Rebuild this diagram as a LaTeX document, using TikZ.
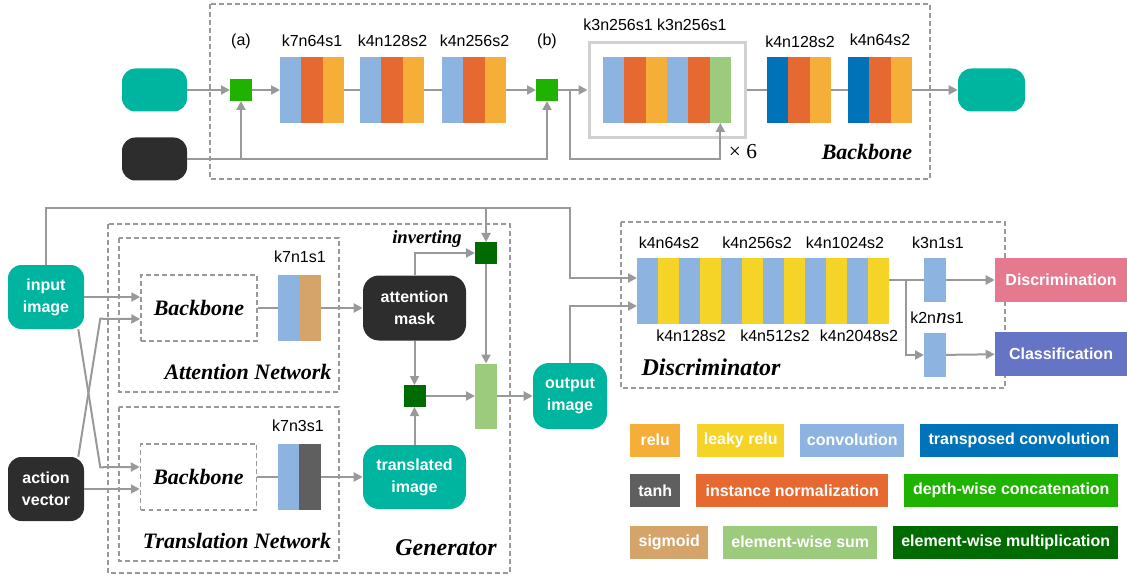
\documentclass[tikz,border=0pt]{standalone}
\usepackage{fontspec}
\setmainfont{Liberation Sans}
\newfontfamily\tnr{Liberation Serif}
\usetikzlibrary{arrows.meta,positioning}

\definecolor{tealc}{RGB}{0,181,160}
\definecolor{darkc}{RGB}{45,45,45}
\definecolor{convc}{RGB}{141,180,225}
\definecolor{normc}{RGB}{230,105,49}
\definecolor{reluc}{RGB}{245,174,55}
\definecolor{lreluc}{RGB}{245,211,39}
\definecolor{tconvc}{RGB}{0,114,184}
\definecolor{sumc}{RGB}{156,203,125}
\definecolor{catc}{RGB}{32,178,0}
\definecolor{multc}{RGB}{0,107,0}
\definecolor{tanhc}{RGB}{95,95,95}
\definecolor{sigc}{RGB}{212,164,106}
\definecolor{discc}{RGB}{229,122,143}
\definecolor{clsc}{RGB}{101,116,196}
\definecolor{linec}{RGB}{153,153,153}

\tikzset{
  conn/.style={draw=linec, line width=1.5pt},
  conar/.style={conn, -{Triangle[length=6.75pt,width=6.75pt]}},
  dashbox/.style={draw=linec, line width=1.1pt, dash pattern=on 3.5pt off 2.5pt},
  layer/.style={rectangle, inner sep=0pt, outer sep=0pt, minimum width=16pt, minimum height=49.5pt},
  dlayer/.style={layer, minimum width=15.75pt},
  opsq/.style={rectangle, inner sep=0pt, outer sep=0pt, minimum size=16.5pt},
  tensor/.style={rectangle, rounded corners=10pt, inner sep=0pt, text=white, align=center, font=\bfseries\fontsize{12pt}{16.5pt}\selectfont},
  spec/.style={font=\fontsize{12pt}{14pt}\selectfont},
  nettitle/.style={font=\tnr\bfseries\itshape\fontsize{16.5pt}{18pt}\selectfont},
  bigtitle/.style={font=\tnr\bfseries\itshape\fontsize{18pt}{20pt}\selectfont},
  legend/.style={rectangle, inner sep=0pt, minimum height=24.75pt, text=white, font=\bfseries\fontsize{12pt}{14pt}\selectfont},
}

\begin{document}
\begin{tikzpicture}[x=0.75pt,y=0.75pt,yscale=-1,xscale=1]
\useasboundingbox (0,0) rectangle (1127,577);

%Backbone frame
\draw[dashbox] (210,4) rectangle (930,179);
%Tensors
\node[tensor, fill=tealc, minimum width=48.75pt, minimum height=32.25pt] (srcimg) at (154.5,90) {};
\node[tensor, fill=darkc, minimum width=48.75pt, minimum height=32.25pt] (srcvec) at (154.5,159) {};
\node[tensor, fill=tealc, minimum width=50.25pt, minimum height=32.25pt] (dstimg) at (991.5,90) {};
%Concatenations
\node[opsq, fill=catc] (catA) at (241,90) {};
\node[spec] at (241,41) {(a)};
\node[opsq, fill=catc] (catB) at (547,90) {};
\node[spec] at (547,41) {(b)};
%Down-sampling blocks
\node[layer, fill=convc] (ba1) at (290.7,90) {};
\node[layer, fill=normc, right=0pt of ba1] (ba2) {};
\node[layer, fill=reluc, right=0pt of ba2] (ba3) {};
\node[spec] at (312,41) {k7n64s1};
\node[layer, fill=convc] (bb1) at (370.7,90) {};
\node[layer, fill=normc, right=0pt of bb1] (bb2) {};
\node[layer, fill=reluc, right=0pt of bb2] (bb3) {};
\node[spec] at (392.5,41) {k4n128s2};
\node[layer, fill=convc] (bc1) at (452.7,90) {};
\node[layer, fill=normc, right=0pt of bc1] (bc2) {};
\node[layer, fill=reluc, right=0pt of bc2] (bc3) {};
\node[spec] at (474.5,41) {k4n256s2};
%Residual block
\node[rectangle, draw=black!18, line width=2.25pt, inner sep=0pt, minimum width=117pt, minimum height=71.25pt] (resblk) at (667,90) {};
\node[layer, fill=convc] (r1) at (613.7,90) {};
\node[layer, fill=normc, right=0pt of r1] (r2) {};
\node[layer, fill=reluc, right=0pt of r2] (r3) {};
\node[layer, fill=convc, right=0pt of r3] (r4) {};
\node[layer, fill=normc, right=0pt of r4] (r5) {};
\node[layer, fill=sumc, right=0pt of r5] (r6) {};
\node[spec] at (655,25) {k3n256s1 k3n256s1};
\node[font=\tnr\fontsize{16pt}{18pt}\selectfont] at (743,152) {× 6};
%Up-sampling blocks
\node[layer, fill=tconvc] (tb1) at (777.7,90) {};
\node[layer, fill=normc, right=0pt of tb1] (tb2) {};
\node[layer, fill=reluc, right=0pt of tb2] (tb3) {};
\node[spec] at (800,42) {k4n128s2};
\node[layer, fill=tconvc] (tc1) at (858.7,90) {};
\node[layer, fill=normc, right=0pt of tc1] (tc2) {};
\node[layer, fill=reluc, right=0pt of tc2] (tc3) {};
\node[spec] at (880,40) {k4n64s2};
\node[nettitle] at (867,152) {Backbone};

%Straight Lines
\draw[conar] (srcimg) -- (catA);
\draw[conar] (catA) -- (ba1);
\draw[conn] (ba3) -- (bb1);
\draw[conn] (bb3) -- (bc1);
\draw[conar] (bc3) -- (catB);
\draw[conar] (catB) -- (resblk);
\coordinate (loopsplit) at (570,90);
\draw[conar] (loopsplit) |- ([shift={(0,36)}]r6.south) -- (r6.south);
\draw[conn] (resblk) -- (tb1);
\draw[conn] (tb3) -- (tc1);
\draw[conar] (tc3) -- (dstimg);
\draw[conar] (srcvec) -| (catB);
\draw[conar] (catA |- srcvec) -- (catA);

%Generator frames
\draw[dashbox] (108,224) rectangle (510,573);
\draw[dashbox] (119,238) rectangle (339,392);
\draw[dashbox] (119,407) rectangle (339,561);
\node[nettitle] at (248,372) {Attention Network};
\node[nettitle] at (237,541) {Translation Network};
\node[bigtitle] at (446,548) {Generator};
%Inputs
\node[tensor, fill=tealc, minimum width=57pt, minimum height=48pt] (inimg) at (46,297) {input\\image};
\node[tensor, fill=darkc, minimum width=57pt, minimum height=48pt] (actvec) at (46,489) {action\\vector};
%Attention network
\node[dashbox, nettitle, inner sep=0pt, minimum width=87pt, minimum height=49.5pt] (attbb) at (199,308) {Backbone};
\node[layer, fill=convc] (a1) at (288.7,308) {};
\node[layer, fill=sigc, right=0pt of a1] (a2) {};
\node[spec] at (300,257) {k7n1s1};
%Translation network
\node[dashbox, nettitle, inner sep=0pt, minimum width=87pt, minimum height=49.5pt] (trbb) at (198.5,477) {Backbone};
\node[layer, fill=convc] (t1) at (288.7,477) {};
\node[layer, fill=tanhc, right=0pt of t1] (t2) {};
\node[spec] at (298,426) {k7n3s1};
%Mask and fusion
\node[tensor, fill=darkc, rounded corners=12pt, minimum width=77.25pt, minimum height=48.75pt] (attmask) at (414.5,308) {attention\\mask};
\node[tensor, fill=tealc, rounded corners=12pt, minimum width=77.25pt, minimum height=48pt] (trimg) at (414.5,477) {translated\\image};
\node[opsq, fill=multc] (inv) at (486,253) {};
\node[font=\tnr\bfseries\itshape\fontsize{14pt}{16pt}\selectfont] at (427,239) {inverting};
\node[opsq, fill=multc] (mult) at (414.5,396) {};
\node[layer, fill=sumc, minimum width=16.5pt, minimum height=48.75pt] (sumblk) at (486,396) {};
\node[tensor, fill=tealc, rounded corners=12pt, minimum width=55.5pt, minimum height=49.5pt] (outimg) at (570,396) {output\\image};

%Straight Lines
\draw[conar] (inimg.east) -- (inimg.east -| attbb.west);
\draw[conar] (actvec.east) -- (actvec.east -| trbb.west);
\draw[conar] ([shift={(-6,0)}]inimg.south east) -- ++(22,138) -- ([shift={(0,-10)}]trbb.west);
\draw[conar] ([shift={(-6,0)}]actvec.north east) -- ++(22,-138) -- ([shift={(0,11)}]attbb.west);
\draw[conn] (attbb) -- (a1);
\draw[conar] (a2) -- (attmask);
\draw[conn] (trbb) -- (t1);
\draw[conar] (t2) -- (trimg);
\draw[conar] (attmask) |- (inv);
\draw[conar] (attmask) -- (mult);
\draw[conar] (trimg) -- (mult);
\draw[conar] (mult) -- (sumblk);
\draw[conar] (inv) -- (sumblk);
\draw[conar] (sumblk) -- (outimg);

%Discriminator
\draw[dashbox] (621,222) rectangle (1005,388);
\node[dlayer, fill=convc] (d1) at (647.5,291) {};
\node[dlayer, fill=lreluc, right=0pt of d1] (d2) {};
\node[dlayer, fill=convc, right=0pt of d2] (d3) {};
\node[dlayer, fill=lreluc, right=0pt of d3] (d4) {};
\node[dlayer, fill=convc, right=0pt of d4] (d5) {};
\node[dlayer, fill=lreluc, right=0pt of d5] (d6) {};
\node[dlayer, fill=convc, right=0pt of d6] (d7) {};
\node[dlayer, fill=lreluc, right=0pt of d7] (d8) {};
\node[dlayer, fill=convc, right=0pt of d8] (d9) {};
\node[dlayer, fill=lreluc, right=0pt of d9] (d10) {};
\node[dlayer, fill=convc, right=0pt of d10] (d11) {};
\node[dlayer, fill=lreluc, right=0pt of d11] (d12) {};
\node[spec] at (669,243) {k4n64s2};
\node[spec] at (757,243) {k4n256s2};
\node[spec] at (845,243) {k4n1024s2};
\node[spec] at (938,243) {k3n1s1};
\node[spec] at (691,336) {k4n128s2};
\node[spec] at (775,336) {k4n512s2};
\node[spec] at (859,336) {k4n2048s2};
\node[spec] at (937,318) {k2n{\tnr\itshape\fontsize{16pt}{16pt}\selectfont n}s1};
\node[layer, fill=convc, minimum width=16.5pt, minimum height=33pt] (k3blk) at (935,280) {};
\node[layer, fill=convc, minimum width=16.5pt, minimum height=33pt] (k2blk) at (935,355) {};
\node[bigtitle] at (711,367) {Discriminator};
\node[legend, fill=discc, minimum width=99pt, minimum height=33pt] (discout) at (1061,280) {Discrimination};
\node[legend, fill=clsc, minimum width=99pt, minimum height=33pt] (clsout) at (1061,353.5) {Classification};
\coordinate (dinA) at ([shift={(0,-13)}]d1.west);
\coordinate (dinB) at ([shift={(0,15)}]d1.west);
\coordinate (dsplit) at (906,280);

%Straight Lines
\draw[conar] (inimg) |- (570,208) |- (dinA);
\draw[conar] (inv |- 0,208) -- (inv);
\draw[conar] (outimg) |- (dinB);
\draw[conn] (d12.east |- k3blk) -- (k3blk);
\draw[conar] (dsplit) |- (k2blk);
\draw[conar] (k3blk) -- (discout);
\draw[conar] (k2blk) -- (clsout);

%Legend
\node[legend, anchor=west, fill=reluc, minimum width=37.5pt] (lgrelu) at (630,440) {relu};
\node[legend, anchor=west, fill=lreluc, minimum width=65.25pt] (lglrelu) at (697,440) {leaky relu};
\node[legend, anchor=west, fill=convc, minimum width=78pt] (lgconv) at (800,440) {convolution};
\node[legend, anchor=west, fill=tconvc, minimum width=148.5pt] (lgtconv) at (920,440) {transposed convolution};
\node[legend, anchor=west, fill=tanhc, minimum width=37.5pt] (lgtanh) at (630,490.5) {tanh};
\node[legend, anchor=west, fill=normc, minimum width=144pt] (lgnorm) at (696,490.5) {instance normalization};
\node[legend, anchor=west, fill=catc, minimum width=160.5pt] (lgcat) at (904,490.5) {depth-wise concatenation};
\node[legend, anchor=west, fill=sigc, minimum width=58.5pt] (lgsig) at (630,542) {sigmoid};
\node[legend, anchor=west, fill=sumc, minimum width=115.5pt] (lgsum) at (723,542) {element-wise sum};
\node[legend, anchor=west, fill=multc, minimum width=168.75pt] (lgmult) at (893,542) {element-wise multiplication};

\end{tikzpicture}
\end{document}
